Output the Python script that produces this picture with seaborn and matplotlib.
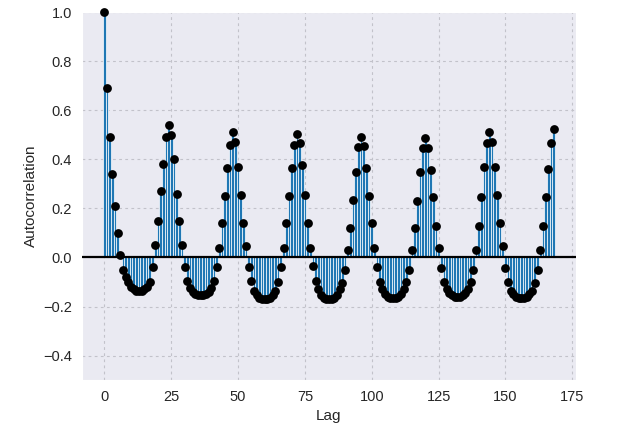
import numpy as np
import pandas as pd
import matplotlib
matplotlib.use("Agg")
import matplotlib.pyplot as plt
import seaborn as sns

# Autocorrelation values, lags 0..168
acf_part1 = [1.00, 0.69, 0.49, 0.34, 0.21, 0.10, 0.01,
             -0.05, -0.08, -0.10, -0.12, -0.13, -0.135, -0.135, -0.135, -0.13, -0.12, -0.10, -0.04,
             0.05, 0.15, 0.27, 0.38, 0.49, 0.54, 0.50, 0.40, 0.26, 0.15, 0.05]
acf_part2 = [-0.04, -0.095, -0.125, -0.14, -0.15, -0.155, -0.155, -0.155, -0.15, -0.14, -0.125, -0.095, -0.04,
             0.04, 0.14, 0.25, 0.365, 0.46, 0.51, 0.47, 0.37, 0.255, 0.14, 0.045]
acf_part3 = [-0.04, -0.095, -0.135, -0.155, -0.165, -0.17, -0.17, -0.17, -0.165, -0.155, -0.135, -0.10, -0.04,
             0.04, 0.14, 0.25, 0.365, 0.46, 0.505, 0.465, 0.375, 0.255, 0.14, 0.04]
acf_part4 = [-0.035, -0.095, -0.13, -0.155, -0.165, -0.17, -0.17, -0.17, -0.165, -0.155, -0.13, -0.105, -0.05,
             0.03, 0.12, 0.235, 0.35, 0.45, 0.49, 0.455, 0.365, 0.25, 0.14, 0.04]
acf_part5 = [-0.04, -0.10, -0.13, -0.15, -0.16, -0.165, -0.165, -0.165, -0.16, -0.15, -0.13, -0.10, -0.05,
             0.03, 0.12, 0.23, 0.35, 0.445, 0.485, 0.445, 0.355, 0.245, 0.13, 0.04]
acf_part6 = [-0.045, -0.10, -0.13, -0.145, -0.155, -0.16, -0.16, -0.16, -0.155, -0.145, -0.13, -0.10, -0.05,
             0.03, 0.13, 0.245, 0.37, 0.465, 0.51, 0.47, 0.37, 0.255, 0.14, 0.045]
acf_part7 = [-0.045, -0.10, -0.135, -0.15, -0.16, -0.165, -0.165, -0.165, -0.16, -0.15, -0.135, -0.105, -0.05,
             0.03, 0.13, 0.245, 0.36, 0.465, 0.525]

acf_values = acf_part1 + acf_part2 + acf_part3 + acf_part4 + acf_part5 + acf_part6 + acf_part7
lags = list(range(len(acf_values)))

x_ticks = [0, 25, 50, 75, 100, 125, 150, 175]
y_ticks = [-0.4, -0.2, 0.0, 0.2, 0.4, 0.6, 0.8, 1.0]

df = pd.DataFrame({"Lag": lags, "Autocorrelation": acf_values})

sns.set_style("darkgrid", {"axes.facecolor": "#EAEAF2", "grid.color": "#c2c2ca",
                           "grid.linestyle": (0, (2.5, 3))})
plt.rcParams["font.family"] = ["Liberation Sans", "DejaVu Sans"]

fig = plt.figure(figsize=(6.4, 4.3), dpi=100)
ax = fig.add_axes([0.128, 0.116, 0.772, 0.856])

ax.bar(df["Lag"], df["Autocorrelation"], width=1.0, color="#1f77b4",
       edgecolor="white", linewidth=0.5, zorder=2)
sns.scatterplot(data=df, x="Lag", y="Autocorrelation", ax=ax, color="black",
                s=40, edgecolor="black", linewidth=0, zorder=3, clip_on=False)
ax.axhline(0, color="black", linewidth=1.6, zorder=4)

ax.set_xlim(-8.4, 176.4)
ax.set_ylim(-0.5, 1.0)
ax.set_xticks(x_ticks)
ax.set_yticks(y_ticks)
ax.set_yticklabels([f"{v:.1f}".replace("-", "\u2212") for v in y_ticks])
ax.tick_params(labelsize=10.5, colors="#262626")
ax.set_xlabel("Lag", fontsize=11, color="#262626")
ax.set_ylabel("Autocorrelation", fontsize=11, color="#262626")
ax.grid(True, linewidth=0.8)

fig.savefig("out.png", dpi=100)
